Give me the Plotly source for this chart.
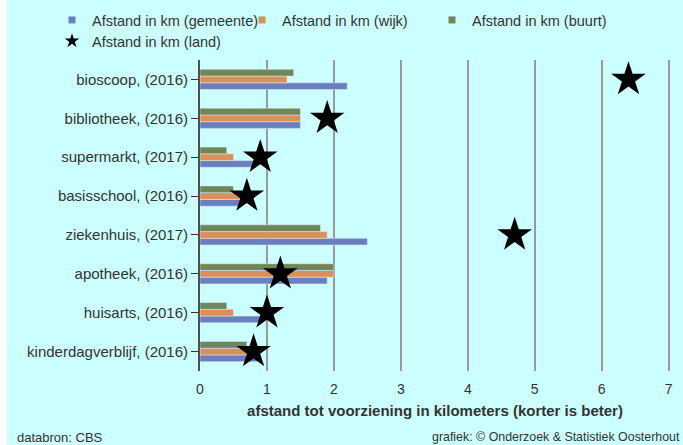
import plotly.graph_objects as go

categories = ["bioscoop, (2016)", "bibliotheek, (2016)", "supermarkt, (2017)",
              "basisschool, (2016)", "ziekenhuis, (2017)", "apotheek, (2016)",
              "huisarts, (2016)", "kinderdagverblijf, (2016)"]
gemeente = [2.2, 1.5, 0.8, 0.6, 2.5, 1.9, 0.9, 0.9]
wijk = [1.3, 1.5, 0.5, 0.6, 1.9, 2.0, 0.5, 0.8]
buurt = [1.4, 1.5, 0.4, 0.5, 1.8, 2.0, 0.4, 0.7]
land = [6.4, 1.9, 0.9, 0.7, 4.7, 1.2, 1.0, 0.8]
x_ticks = [0, 1, 2, 3, 4, 5, 6, 7]

series_names = ["Afstand in km (gemeente)", "Afstand in km (wijk)",
                "Afstand in km (buurt)", "Afstand in km (land)"]
colors = ["#6a80be", "#d8915a", "#6f8659", "black"]

FONT = "Arial, Liberation Sans, sans-serif"
TXT = "#333333"
fig = go.Figure()
for vals, name, col in zip([gemeente, wijk, buurt], series_names[:3], colors[:3]):
    fig.add_trace(go.Bar(y=categories, x=vals, orientation="h", name=name,
                         marker_color=col, showlegend=False))
fig.add_trace(go.Scatter(y=categories, x=land, mode="markers",
                         name=series_names[3], showlegend=False,
                         marker=dict(symbol="star", size=26, color="black",
                                     line=dict(width=0))))
# legend-only entries with small symbols
for name, col in zip(series_names[:3], colors[:3]):
    fig.add_trace(go.Scatter(y=[None], x=[None], mode="markers", name=name,
                             legend="legend",
                             marker=dict(symbol="square", size=7, color=col,
                                         line=dict(width=0))))
fig.add_trace(go.Scatter(y=[None], x=[None], mode="markers",
                         name=series_names[3], legend="legend2",
                         marker=dict(symbol="star", size=11, color="black",
                                     line=dict(width=0))))

W, H = 683, 445
L, R, T, B = 200, 13, 60, 74
pw = W - L - R
ph = H - T - B


def px_x(x):
    return (x - L) / pw


def px_y(y):
    return (H - B - y) / ph


leg_common = dict(orientation="h", xanchor="left", yanchor="middle",
                  entrywidth=145, entrywidthmode="pixels", itemwidth=30,
                  font=dict(size=14.5, color=TXT), bgcolor="rgba(0,0,0,0)")

fig.update_layout(
    width=W, height=H,
    margin=dict(l=L, r=R, t=T, b=B, autoexpand=False),
    paper_bgcolor="#ccffff", plot_bgcolor="#ccffff",
    barmode="group", bargap=0.48, bargroupgap=0,
    font=dict(family=FONT, size=13, color=TXT),
    showlegend=True,
    legend=dict(x=px_x(52), y=px_y(20), **leg_common),
    legend2=dict(x=px_x(52), y=px_y(41), **leg_common),
    xaxis=dict(range=[0, 7.02], tickvals=x_ticks, showgrid=True,
               gridcolor="#9a9a9a", gridwidth=1.5, zeroline=False,
               showline=False, ticks="outside", ticklen=5,
               tickcolor="rgba(0,0,0,0)", tickfont=dict(size=14, color=TXT),
               title=dict(text="<b>afstand tot voorziening in kilometers (korter is beter)</b>",
                          font=dict(size=15, color=TXT), standoff=9)),
    yaxis=dict(categoryorder="array", categoryarray=categories[::-1],
               range=[-0.5, len(categories) - 0.5],
               showline=True, linecolor="#505050", linewidth=2,
               ticks="outside", ticklen=7, tickcolor="#333333", tickwidth=1.2,
               showgrid=False, tickfont=dict(size=15, color=TXT)),
    shapes=[dict(type="rect", xref="paper", yref="paper",
                 x0=px_x(-5), x1=px_x(7), y0=-1, y1=2,
                 fillcolor="white", line=dict(width=0), layer="below")],
    annotations=[
        dict(text="databron: CBS", xref="paper", yref="paper",
             x=px_x(15), y=px_y(437), xanchor="left",
             yanchor="middle", showarrow=False, font=dict(size=13, color=TXT)),
        dict(text="grafiek: © Onderzoek & Statistiek Oosterhout", xref="paper", yref="paper",
             x=px_x(682), y=px_y(437), xanchor="right",
             yanchor="middle", showarrow=False, font=dict(size=12.4, color=TXT)),
    ],
)

fig.write_html("out.html", config={"displayModeBar": False},
               post_script="document.body.style.margin='0';document.body.style.overflow='hidden';")
